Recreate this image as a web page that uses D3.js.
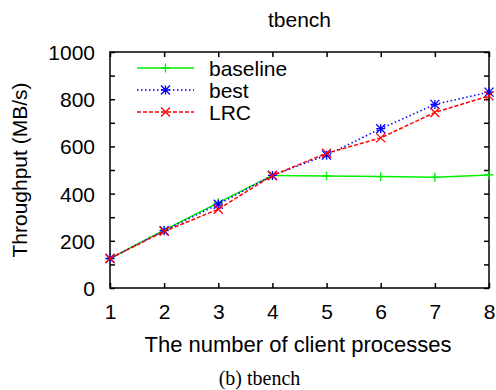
<!DOCTYPE html>
<html>
<head>
<meta charset="UTF-8">
<title>tbench</title>
<style>
body { margin: 0; background: #fff; }
svg text { font-family: "Liberation Sans", Arial, sans-serif; fill: #000; }
.tick text { font-size: 21px; }
.axis path, .axis line { stroke: #000; stroke-width: 1.5px; }
.caption { font-family: "Liberation Serif", "Times New Roman", serif !important; }
</style>
</head>
<body>
<div class="chart"></div>
<script src="https://cdn.jsdelivr.net/npm/d3@7"></script>
<script>
// data
const procs = [1, 2, 3, 4, 5, 6, 7, 8];
const baseline = [125, 245, 362, 477, 475, 472, 469, 479];
const best = [125, 243, 355, 477, 563, 675, 778, 830];
const lrc = [125, 240, 334, 477, 571, 636, 744, 814];
const yTicks = [0, 200, 400, 600, 800, 1000];

const series = [
    {name: 'baseline', values: baseline, color: '#00ee00', dash: null, mark: 'plus'},
    {name: 'best', values: best, color: '#0000ff', dash: '1.5,2.5', mark: 'star'},
    {name: 'LRC', values: lrc, color: '#ff0000', dash: '4,2', mark: 'cross'}
];

let width = 496, height = 390,
    pLeft = 110, pRight = 489, pTop = 52, pBottom = 288;

let svg = d3.select('.chart').append('svg')
    .attr('width', width)
    .attr('height', height);

let x = d3.scaleLinear().domain([1, 8]).range([pLeft, pRight]);
let y = d3.scaleLinear().domain([0, 1000]).range([pBottom, pTop]);

// ticks every 100, labels every 200
const yMinor = d3.range(0, 1001, 100);

svg.append('g')
    .attr('class', 'axis')
    .attr('transform', `translate(${pLeft},0)`)
    .call(d3.axisLeft(y).tickValues(yMinor).tickSize(-5).tickPadding(15)
        .tickFormat(d => yTicks.includes(d) ? d : ''))
    .call(g => g.select('.domain').remove())
    .call(g => g.selectAll('.tick text').attr('dy', '0.36em'));

svg.append('g')
    .attr('class', 'axis')
    .attr('transform', `translate(${pRight},0)`)
    .call(d3.axisRight(y).tickValues(yMinor).tickSize(-5).tickFormat(''))
    .call(g => g.select('.domain').remove());

svg.append('g')
    .attr('class', 'axis')
    .attr('transform', `translate(0,${pBottom})`)
    .call(d3.axisBottom(x).tickValues(procs).tickSize(-5).tickPadding(16).tickFormat(d3.format('d')))
    .call(g => g.select('.domain').remove());

svg.append('g')
    .attr('class', 'axis')
    .attr('transform', `translate(0,${pTop})`)
    .call(d3.axisTop(x).tickValues(procs).tickSize(-5).tickFormat(''))
    .call(g => g.select('.domain').remove());

svg.append('rect')
    .attr('x', pLeft).attr('y', pTop)
    .attr('width', pRight - pLeft).attr('height', pBottom - pTop)
    .attr('fill', 'none').attr('stroke', '#000').attr('stroke-width', 1.5);

function marker(g, type, cx, cy, color) {
    const r = 4.5;
    let p = '';
    if (type === 'plus' || type === 'star') p += `M${cx - r},${cy}H${cx + r}M${cx},${cy - r}V${cy + r}`;
    if (type === 'cross' || type === 'star') p += `M${cx - r},${cy - r}L${cx + r},${cy + r}M${cx - r},${cy + r}L${cx + r},${cy - r}`;
    g.append('path').attr('d', p).attr('stroke', color).attr('stroke-width', 1.3).attr('fill', 'none');
}

let line = d3.line().x((d, i) => x(procs[i])).y(d => y(d));

let plot = svg.append('g');
series.forEach(s => {
    plot.append('path')
        .attr('d', line(s.values))
        .attr('fill', 'none')
        .attr('stroke', s.color)
        .attr('stroke-width', 1.5)
        .attr('stroke-dasharray', s.dash);
    s.values.forEach((v, i) => marker(plot, s.mark, x(procs[i]), y(v), s.color));
});

// legend
let legend = svg.append('g');
series.forEach((s, i) => {
    let ly = 68 + i * 22;
    legend.append('line')
        .attr('x1', 137).attr('x2', 194).attr('y1', ly).attr('y2', ly)
        .attr('stroke', s.color).attr('stroke-width', 1.5)
        .attr('stroke-dasharray', s.dash);
    marker(legend, s.mark, 165.5, ly, s.color);
    legend.append('text')
        .attr('x', 209).attr('y', ly + 7.5)
        .style('font-size', '21px')
        .text(s.name);
});

svg.append('text')
    .attr('x', (pLeft + pRight) / 2).attr('y', 27)
    .attr('text-anchor', 'middle')
    .style('font-size', '21px')
    .text('tbench');

svg.append('text')
    .attr('x', 298).attr('y', 352)
    .attr('text-anchor', 'middle')
    .style('font-size', '22px')
    .text('The number of client processes');

svg.append('text')
    .attr('transform', `translate(27,${(pTop + pBottom) / 2}) rotate(-90)`)
    .attr('text-anchor', 'middle')
    .style('font-size', '21px')
    .text('Throughput (MB/s)');

svg.append('text')
    .attr('class', 'caption')
    .attr('x', 259.5).attr('y', 385)
    .attr('text-anchor', 'middle')
    .style('font-size', '20px')
    .text('(b) tbench');
</script>
</body>
</html>
